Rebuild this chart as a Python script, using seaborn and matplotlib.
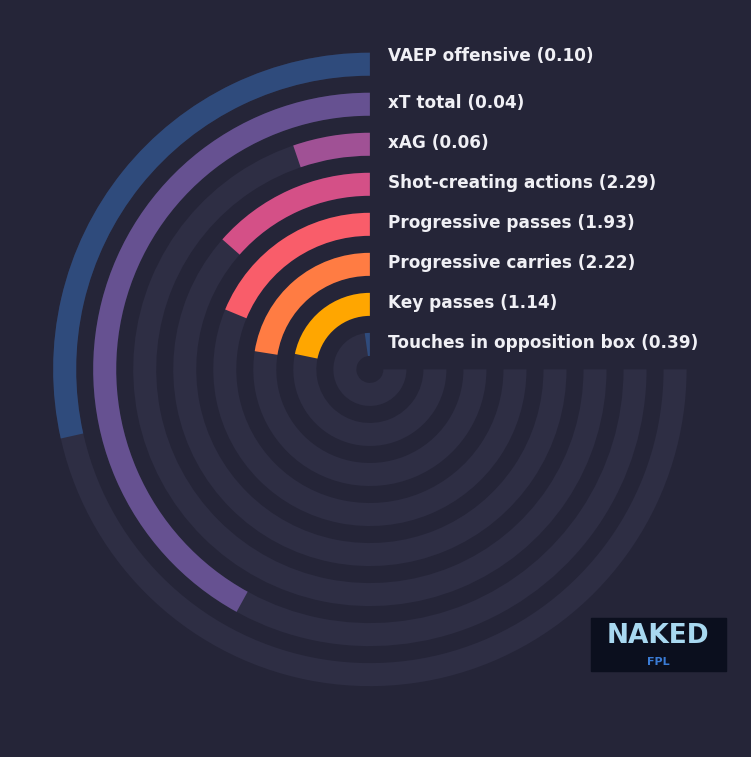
import matplotlib
matplotlib.use("Agg")
import matplotlib.pyplot as plt
import numpy as np
import seaborn as sns

sns.set_theme(style="white")
plt.rcParams["font.family"] = ["DejaVu Sans"]

# innermost first
metrics = ["Touches in opposition box", "Key passes", "Progressive carries",
           "Progressive passes", "Shot-creating actions", "xAG", "xT total",
           "VAEP offensive"]
per90 = [0.39, 1.14, 2.22, 1.93, 2.29, 0.06, 0.04, 0.10]
percentile = [3, 29, 30, 25, 18, 7, 56, 38]
colors = ["#2f4b7c", "#ffa600", "#ff7c43", "#f95d6a", "#d45087",
          "#a05195", "#665191", "#2f4b7c"]

BG = "#252538"
TRACK = "#2e2e44"
SPAN = 1.5 * np.pi  # 270 degrees

fig = plt.figure(figsize=(7.51, 7.57), dpi=100, facecolor=BG)
ax = fig.add_axes([0.066, 0.089, 0.853, 0.846], polar=True)
ax.set_facecolor(BG)
ax.set_theta_zero_location("N")
ax.set_theta_direction(1)
ax.set_ylim(0, 320)
ax.grid(False)
ax.set_xticks([])
ax.set_yticks([])
ax.spines["polar"].set_visible(False)

radii = [25 + 40 * i for i in range(len(metrics))]
for i, (r, name, val, pct, col) in enumerate(zip(radii, metrics, per90, percentile, colors)):
    ax.barh(r, SPAN, left=0, height=23, color=TRACK, align="center", linewidth=0)
    ax.barh(r, SPAN * pct / 100, left=0, height=23, color=col, align="center", linewidth=0)
    dy = 6 if i == len(metrics) - 1 else 1
    ax.annotate(f"{name} ({val:.2f})", xy=(0, r), xytext=(13, dy),
                textcoords="offset points", ha="left", va="center",
                color="#f0f0f5", fontsize=12.2, fontweight="bold")

# logo
fig.patches.append(plt.Rectangle((591 / 751, 1 - 671 / 757), 135 / 751, 53 / 757,
                                 transform=fig.transFigure, color="#0b0f1e"))
fig.text(658 / 751, 1 - 636 / 757, "NAKED", ha="center", va="center",
         color="#a8d8f0", fontsize=19, fontweight="bold")
fig.text(658 / 751, 1 - 662 / 757, "FPL", ha="center", va="center",
         color="#3a7bd5", fontsize=8, fontweight="bold")

fig.savefig("out.png", facecolor=BG)
